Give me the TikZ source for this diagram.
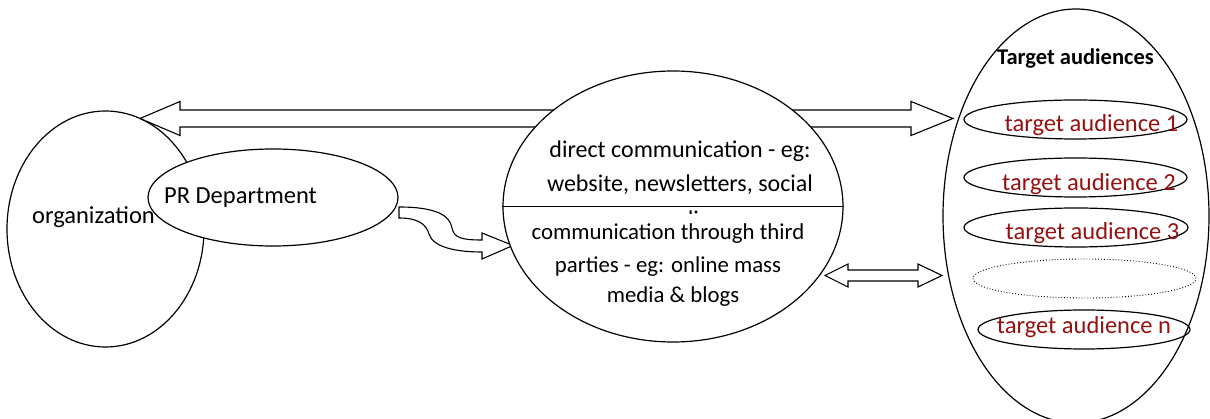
\documentclass[tikz,border=0pt]{standalone}
\usepackage{fontspec}
\setmainfont{Carlito}
\usetikzlibrary{shapes.geometric}
\definecolor{audred}{RGB}{150,16,16}
\begin{document}
\begin{tikzpicture}[x=1pt,y=-1pt,
  outline/.style={draw=black, line width=1.2pt},
  blockarrow/.style={draw=black, line width=1.1pt, fill=white, line join=miter},
  oval/.style={ellipse, draw=black, line width=1.2pt, inner sep=0pt},
  lbl/.style={anchor=base, inner sep=0pt, font=\fontsize{24.5pt}{30pt}\selectfont},
  uplbl/.style={lbl, font=\fontsize{24pt}{30pt}\selectfont},
  lowlbl/.style={lbl, font=\fontsize{22.8pt}{30pt}\selectfont},
  redlbl/.style={lbl, text=audred},
]
\useasboundingbox (0,0) rectangle (1210,419);
\clip (0,0) rectangle (1210,419);

% top double block arrow
\coordinate (ta) at (140,118.5);
\coordinate (tb) at (953,118.5);
\draw[blockarrow] (ta) -- (180,101.5) -- (180,110) -- (911,110) -- (911,101.5) -- (tb)
  -- (911,135.5) -- (911,127) -- (180,127) -- (180,135.5) -- cycle;

% organization
\node[oval, minimum width=197pt, minimum height=236pt] (org) at (105.5,229) {};
\node[oval, fill=white, minimum width=250pt, minimum height=97pt] (pr) at (273,197.5) {};
\node[lbl] (orgtxt) at (93.5,224) {organization};
\node[lbl] (prtxt) at (240.5,204) {PR Department};

% curved arrow
\coordinate (ca) at (399,207);
\draw[blockarrow] (ca) .. controls (435,207) and (450,215) .. (452,228)
  .. controls (454,238) and (462,240) .. (482,240) -- (482,233) -- (513,245.5)
  -- (482,259) -- (482,252) .. controls (455,252) and (433,247) .. (429,234)
  .. controls (426,224) and (418,218) .. (399,218) -- cycle;

% middle ellipse
\node[oval, fill=white, minimum width=340pt, minimum height=271pt] (mid) at (673,206.5) {};
\draw[outline] (mid.west) -- (mid.east);
\node[uplbl] (m1) at (680,158) {direct communication - eg:};
\node[uplbl] (m2) at (680,192) {website, newsletters, social};
\begin{scope}
\clip (640,208.5) rectangle (720,213.8);
\node[uplbl] (m3) at (680,227.5) {media};
\end{scope}
\node[lowlbl] (m4) at (668,240) {communication through third};
\node[lowlbl] (m5) at (668,273) {parties - eg: online mass};
\node[lowlbl] (m6) at (673,303) {media \& blogs};

% lower double block arrow
\coordinate (la) at (825,275.5);
\coordinate (lb) at (942,275.5);
\draw[blockarrow] (la) -- (848,264) -- (848,270) -- (918,270) -- (918,264) -- (lb)
  -- (918,287) -- (918,281) -- (848,281) -- (848,287) -- cycle;

% target audiences
\node[oval, minimum width=266pt, minimum height=414pt] (aud) at (1076,216) {};
\node[anchor=base, inner sep=0pt, font=\bfseries\fontsize{22.5pt}{27pt}\selectfont] (audtitle) at (1075.5,65) {Target audiences};
\node[oval, minimum width=223pt, minimum height=39pt] (t1) at (1075.5,119.5) {};
\node[oval, minimum width=223pt, minimum height=39pt] (t2) at (1075.5,177.5) {};
\node[oval, minimum width=224pt, minimum height=39pt] (t3) at (1076,227.5) {};
\node[ellipse, draw=black, dotted, line width=0.9pt, inner sep=0pt, minimum width=223pt, minimum height=39pt] (tdots) at (1084.5,278.5) {};
\node[oval, minimum width=212pt, minimum height=39pt] (tn) at (1084,329.5) {};
\node[redlbl] (t1txt) at (1091.5,132) {target audience 1};
\node[redlbl] (t2txt) at (1089,191) {target audience 2};
\node[redlbl] (t3txt) at (1092.5,240) {target audience 3};
\node[redlbl] (tntxt) at (1084,334) {target audience n};
\end{tikzpicture}
\end{document}
